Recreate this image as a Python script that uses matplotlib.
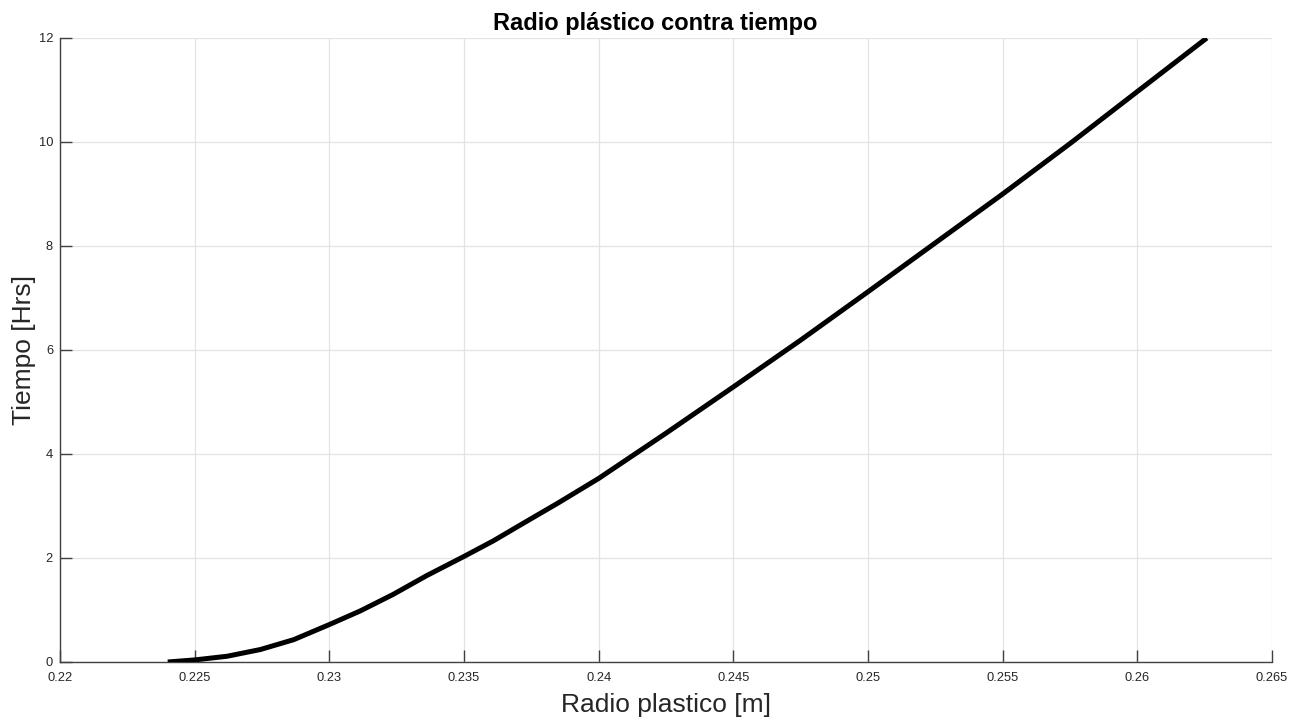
import matplotlib
matplotlib.use("Agg")
import matplotlib.pyplot as plt

plt.rcParams['font.family'] = ['Liberation Sans', 'DejaVu Sans']

radio = [0.22400, 0.22500, 0.22620, 0.22744, 0.22868, 0.23000, 0.23114, 0.23237,
         0.23361, 0.23500, 0.23609, 0.23701, 0.23850, 0.24000, 0.24250, 0.24500,
         0.24750, 0.25000, 0.25250, 0.25500, 0.25750, 0.26000, 0.26258]
tiempo = [0.0, 0.04, 0.11, 0.24, 0.43, 0.72, 0.98, 1.30,
          1.66, 2.03, 2.33, 2.61, 3.06, 3.53, 4.40, 5.29,
          6.19, 7.12, 8.06, 9.00, 9.97, 10.97, 12.0]

xticks = [0.22, 0.225, 0.23, 0.235, 0.24, 0.245, 0.25, 0.255, 0.26, 0.265]
xticklabels = ['0.22', '0.225', '0.23', '0.235', '0.24', '0.245', '0.25', '0.255', '0.26', '0.265']
yticks = [0, 2, 4, 6, 8, 10, 12]
yticklabels = ['0', '2', '4', '6', '8', '10', '12']

fig = plt.figure(figsize=(13.04, 7.26), dpi=100)
ax = fig.add_axes([60/1304, 64/726, 1212/1304, 624/726])

ax.plot(radio, tiempo, color='black', linewidth=3.6, solid_capstyle='butt',
        solid_joinstyle='round', zorder=3)

ax.set_xlim(0.22, 0.265)
ax.set_ylim(0, 12)
ax.set_xticks(xticks)
ax.set_xticklabels(xticklabels)
ax.set_yticks(yticks)
ax.set_yticklabels(yticklabels)

ax.grid(True, color='#e3e3e3', linewidth=0.9)
ax.set_axisbelow(True)

for s in ['top', 'right']:
    ax.spines[s].set_visible(False)
for s in ['left', 'bottom']:
    ax.spines[s].set_color('#404040')
    ax.spines[s].set_linewidth(1.0)

ax.tick_params(direction='in', length=8.5, width=1.0, color='#404040',
               labelsize=9.3, labelcolor='#262626')
ax.tick_params(axis='x', pad=7)
ax.tick_params(axis='y', pad=5)

ax.set_xlabel('Radio plastico [m]', fontsize=19, color='#262626', labelpad=7)
ax.set_ylabel('Tiempo [Hrs]', fontsize=19, color='#262626', labelpad=2)
ax.set_title('Radio plástico contra tiempo', fontsize=17, fontweight='bold',
             color='black', pad=6, x=0.491)

fig.savefig('out.png', dpi=100, facecolor='white')
